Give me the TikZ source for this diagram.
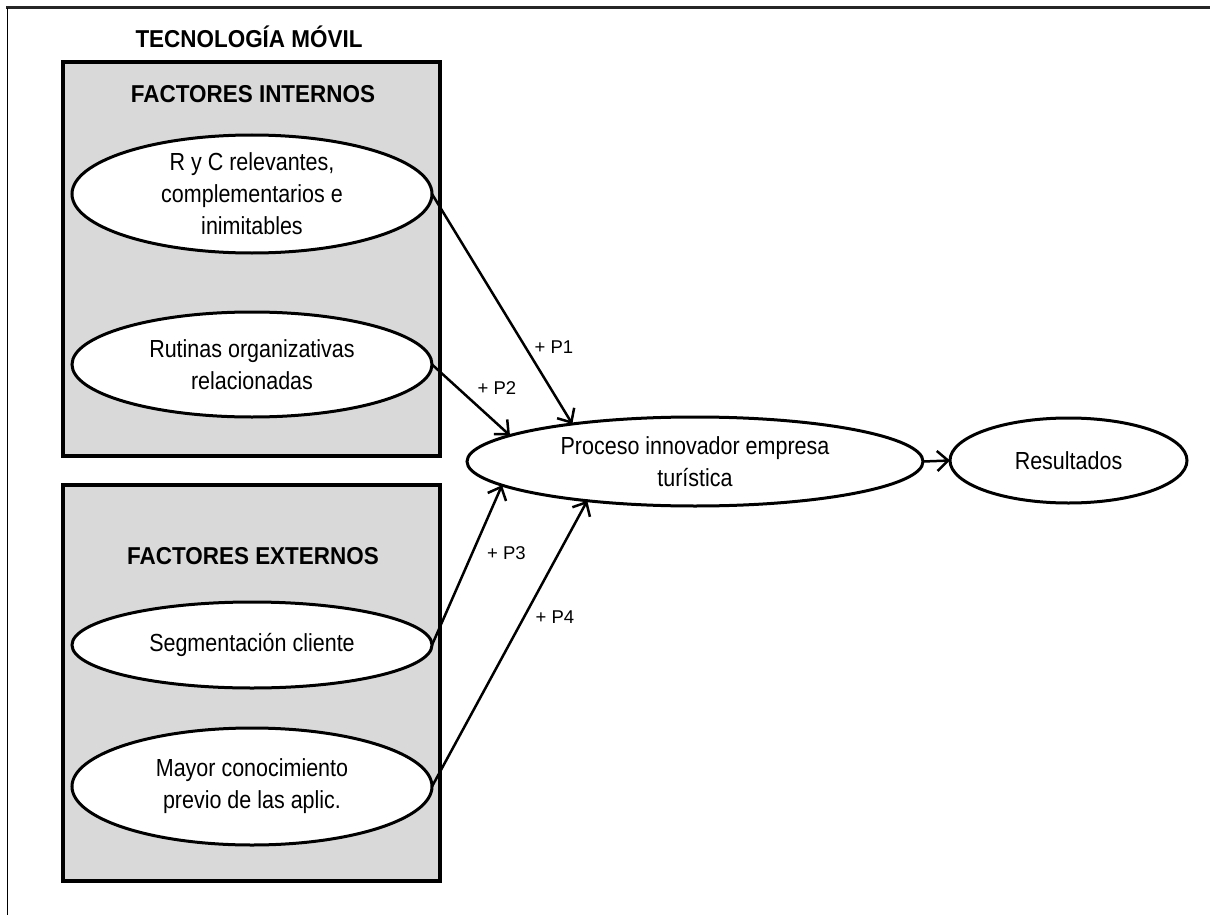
\documentclass[tikz,border=0pt]{standalone}
\usepackage{fontspec}
\setmainfont{Liberation Sans}
\newfontfamily\bodyfont[FakeStretch=0.87]{Liberation Sans}
\newfontfamily\headfont[FakeStretch=0.92]{Liberation Sans}
\usetikzlibrary{shapes.geometric,arrows.meta}
\definecolor{boxgray}{HTML}{D9D9D9}
\tikzset{
  graybox/.style={draw=black, line width=3.5pt, fill=boxgray, rectangle, inner sep=0pt, outer sep=0pt},
  oval/.style={draw=black, line width=3pt, fill=white, ellipse, inner sep=0pt, outer sep=0pt, align=center,
    font=\bodyfont\fontsize{24.7}{32}\selectfont},
  heading/.style={font=\headfont\bfseries\fontsize{24.4}{28}\selectfont, inner sep=0pt},
  plabel/.style={font=\fontsize{18.5}{22}\selectfont, inner sep=0pt},
  conn/.style={line width=2.5pt, -{Straight Barb[length=11pt,width=20pt,line width=2.5pt]}}
}
\begin{document}
\begin{tikzpicture}[x=1pt,y=-1pt]
\useasboundingbox (0,0) rectangle (1210,915);
% frame
\draw[line width=3pt, color=black!85] (6,8) -- (1210,8);
\draw[line width=1.5pt] (7.5,8) -- (7.5,915);
% boxes
\node[graybox, minimum width=377pt, minimum height=394pt] (intbox) at (251.5,259) {};
\node[graybox, minimum width=377pt, minimum height=396pt] (extbox) at (251.5,683) {};
% headings
\node[heading] (title) at (249,37) {TECNOLOGÍA MÓVIL};
\node[heading] (inth) at (253,94) {FACTORES INTERNOS};
\node[heading] (exth) at (253,556) {FACTORES EXTERNOS};
% ovals
\node[oval, minimum width=360pt, minimum height=118pt] (ryc) at (252,194) {R y C relevantes,\\complementarios e\\inimitables};
\node[oval, minimum width=360pt, minimum height=105pt] (rut) at (252,364.5) {Rutinas organizativas\\relacionadas};
\node[oval, minimum width=360pt, minimum height=86pt] (seg) at (252,645) {Segmentación cliente};
\node[oval, minimum width=360pt, minimum height=117pt] (may) at (252,786.5) {Mayor conocimiento\\previo de las aplic.};
\node[oval, minimum width=456pt, minimum height=89pt] (proc) at (695,461.5) {Proceso innovador empresa\\turística};
\node[oval, minimum width=237pt, minimum height=85pt] (res) at (1068.5,460.5) {Resultados};
% connectors
\draw[conn] (ryc.east) -- (proc.163.7);
\draw[conn] (rut.east) -- (proc.172.1);
\draw[conn] (seg.east) -- (proc.187.7);
\draw[conn] (may.east) -- (proc.200.3);
\draw[conn] (proc.east) -- (res.west);
% labels
\node[plabel] (p1) at (554,347) {+ P1};
\node[plabel] (p2) at (497,388) {+ P2};
\node[plabel] (p3) at (506.5,553) {+ P3};
\node[plabel] (p4) at (555,617) {+ P4};
\end{tikzpicture}
\end{document}
